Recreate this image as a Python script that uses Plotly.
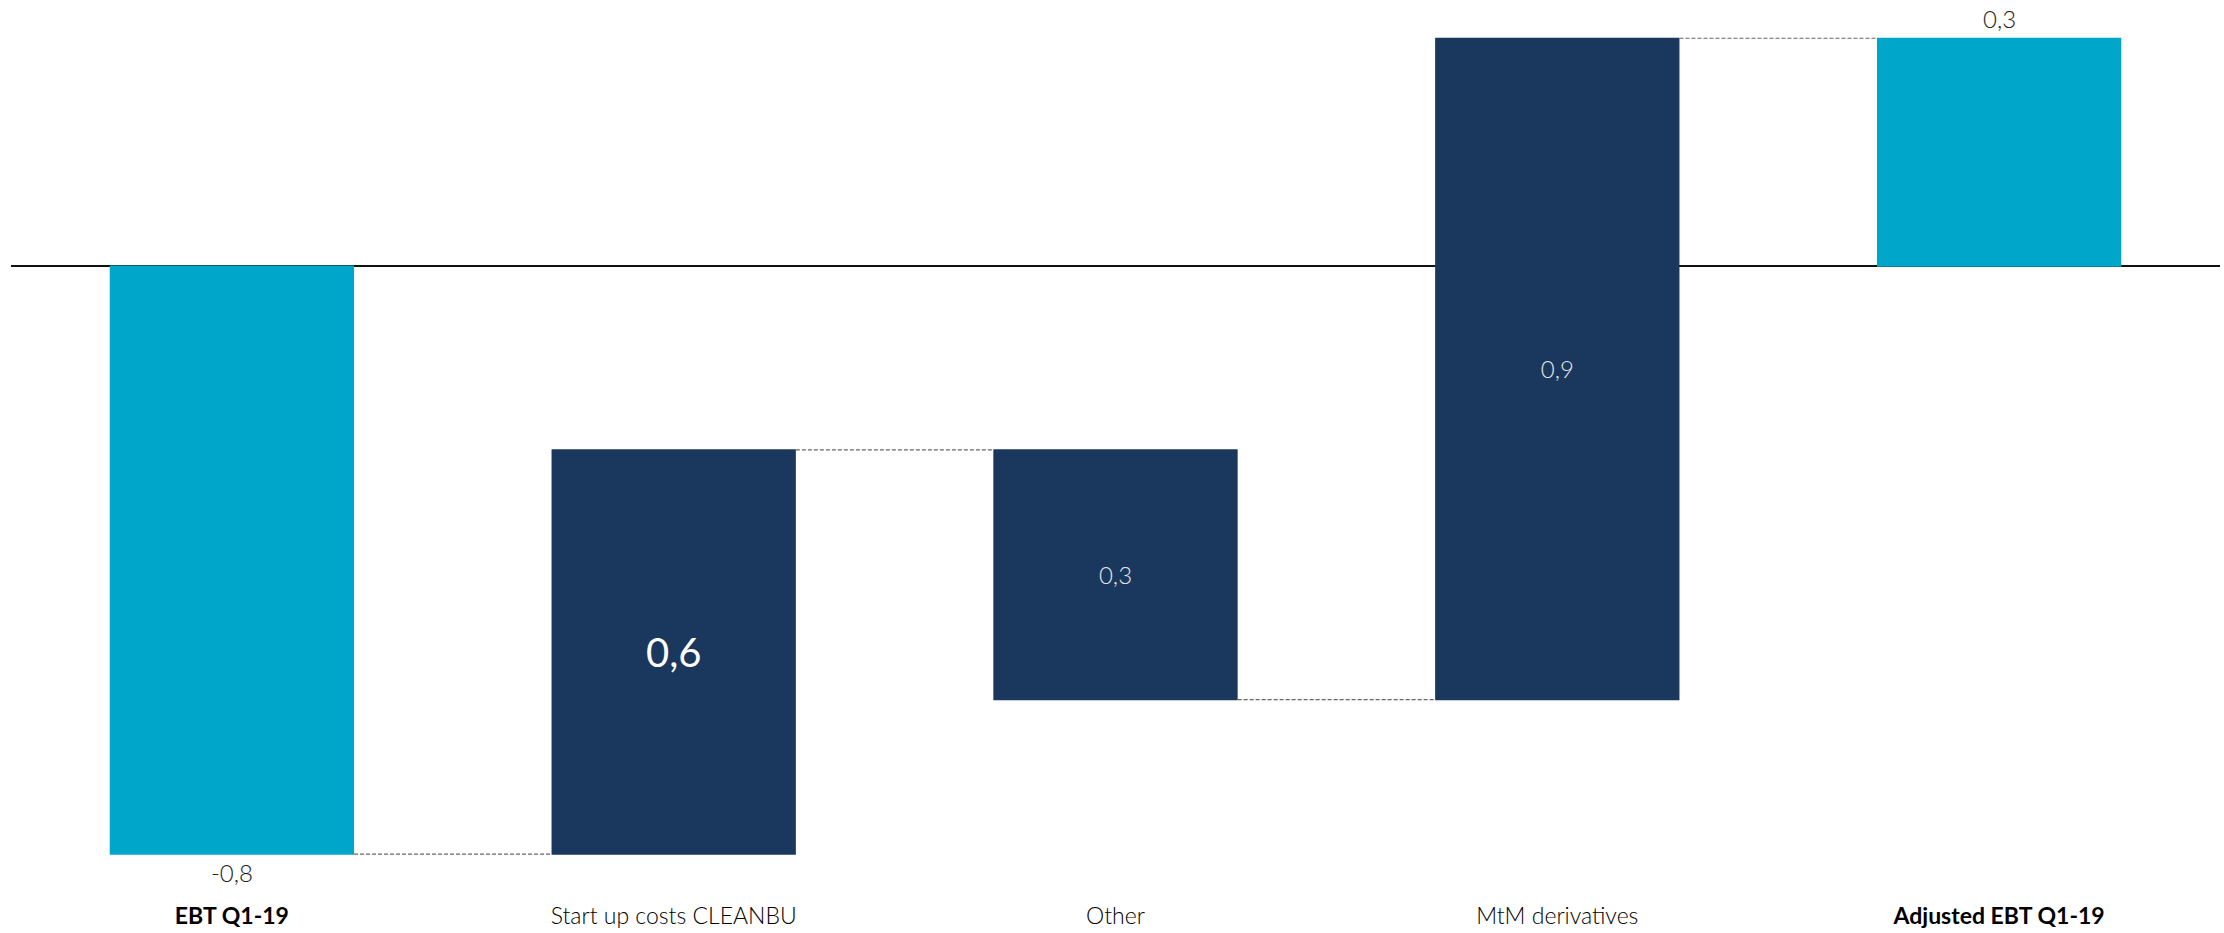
import plotly.graph_objects as go

categories = ["EBT Q1-19", "Start up costs CLEANBU", "Other", "MtM derivatives", "Adjusted EBT Q1-19"]
tick_labels = ["<b>EBT Q1-19</b>", "Start up costs CLEANBU", "Other", "MtM derivatives", "<b>Adjusted EBT Q1-19</b>"]
measures = ["absolute", "relative", "relative", "relative", "total"]
values = [-0.80, 0.55, -0.34, 0.90, 0]
value_labels = ["-0,8", "0,6", "0,3", "0,9", "0,3"]

CYAN = "#00A6C9"
NAVY = "#1A375E"
FONT = "Lato, 'Source Sans Pro', 'Open Sans', sans-serif"

final_total = sum(values[:4])

fig = go.Figure(go.Waterfall(
    x=categories,
    y=values,
    measure=measures,
    text=value_labels[:4] + [""],
    textinfo="text",
    textposition=["outside", "inside", "inside", "inside", "none"],
    insidetextanchor="middle",
    constraintext="none",
    textfont=dict(family=FONT,
                  size=[24, 40, 24, 24, 24],
                  weight=[300, 400, 300, 300, 300],
                  color=["#222222", "#FFFFFF", "#E6E6E6", "#E6E6E6", "#222222"]),
    width=0.553,
    increasing=dict(marker=dict(color=NAVY)),
    decreasing=dict(marker=dict(color=NAVY)),
    totals=dict(marker=dict(color=CYAN)),
    connector=dict(mode="between", line=dict(color="#666666", width=1.2, dash="4px,2px")),
    cliponaxis=False,
    hoverinfo="skip",
    showlegend=False,
))

fig.add_annotation(
    x=categories[4], y=final_total, text=value_labels[4],
    showarrow=False, yanchor="middle", yshift=20,
    font=dict(family=FONT, size=24, color="#222222", weight=300),
)

fig.update_layout(
    width=2224, height=933,
    margin=dict(l=11, r=4, t=30, b=63),
    paper_bgcolor="white", plot_bgcolor="white",
    font=dict(family=FONT, size=22, color="#111111"),
    xaxis=dict(
        range=[-0.5, 4.5],
        tickmode="array", tickvals=categories, ticktext=tick_labels,
        ticks="outside", ticklen=30, tickcolor="rgba(0,0,0,0)",
        showgrid=False, showline=False, zeroline=False,
        tickfont=dict(family=FONT, size=23, color="#000000", weight=300),
    ),
    yaxis=dict(
        range=[-0.8149, 0.3212],
        showgrid=False, showticklabels=False, ticks="",
        zeroline=True, zerolinecolor="#111111", zerolinewidth=2,
        showline=False,
    ),
)

fig.write_html(
    "out.html",
    config={"displayModeBar": False, "staticPlot": True},
    post_script="document.body.style.margin='0';document.body.style.overflow='hidden';",
)
